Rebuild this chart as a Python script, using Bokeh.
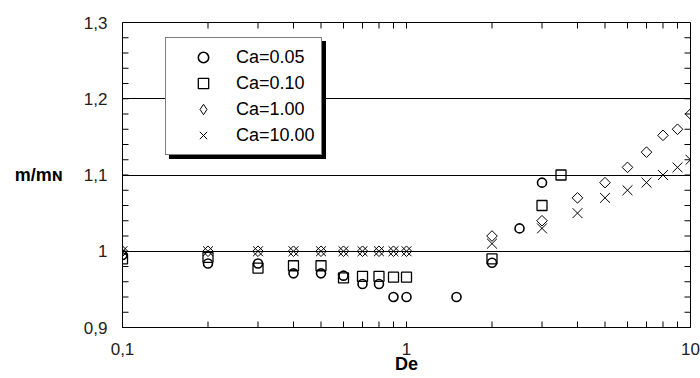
import math
import numpy as np
from bokeh.plotting import figure
from bokeh.models import (FixedTicker, Legend, LegendItem, Range1d, CustomJSTickFormatter)
from bokeh.embed import file_html
from bokeh.resources import INLINE

# ---- data ----
de_005 = [0.1, 0.2, 0.3, 0.4, 0.5, 0.6, 0.7, 0.8, 0.9, 1.0, 1.5, 2.0, 2.5, 3.0]
m_005 = [0.995, 0.984, 0.984, 0.971, 0.971, 0.968, 0.957, 0.957, 0.94, 0.94, 0.94, 0.985, 1.03, 1.09]

de_010 = [0.1, 0.2, 0.3, 0.4, 0.5, 0.6, 0.7, 0.8, 0.9, 1.0, 2.0, 3.0, 3.5]
m_010 = [0.99, 0.992, 0.978, 0.981, 0.981, 0.965, 0.967, 0.967, 0.966, 0.966, 0.99, 1.06, 1.10]

de_100 = [0.1, 0.2, 0.3, 0.4, 0.5, 0.6, 0.7, 0.8, 0.9, 1.0, 2, 3, 4, 5, 6, 7, 8, 9, 10]
m_100 = [1.0, 1.0, 1.0, 1.0, 1.0, 1.0, 1.0, 1.0, 1.0, 1.0,
         1.02, 1.04, 1.07, 1.09, 1.11, 1.13, 1.152, 1.16, 1.18]

de_1000 = [0.1, 0.2, 0.3, 0.4, 0.5, 0.6, 0.7, 0.8, 0.9, 1.0, 2, 3, 4, 5, 6, 7, 8, 9, 10]
m_1000 = [1.0, 1.0, 1.0, 1.0, 1.0, 1.0, 1.0, 1.0, 1.0, 1.0,
          1.01, 1.03, 1.05, 1.07, 1.08, 1.09, 1.10, 1.11, 1.12]

series_labels = ["Ca=0.05", "Ca=0.10", "Ca=1.00", "Ca=10.00"]

x_ticks = [0.1, 1.0, 10.0]
x_tick_labels = ["0,1", "1", "10"]
x_minor = [0.2, 0.3, 0.4, 0.5, 0.6, 0.7, 0.8, 0.9, 2.0, 3.0, 4.0, 5.0, 6.0, 7.0, 8.0, 9.0]
y_ticks = [0.9, 1.0, 1.1, 1.2, 1.3]
y_tick_labels = ["0,9", "1", "1,1", "1,2", "1,3"]
y_minor = [0.92, 0.94, 0.96, 0.98, 1.02, 1.04, 1.06, 1.08, 1.12, 1.14, 1.16, 1.18,
           1.22, 1.24, 1.26, 1.28]
y_grid = [1.0, 1.1, 1.2]
x_min, x_max = 0.1, 10.0
y_min, y_max = 0.9, 1.3

FONT = "Liberation Sans"

# layout (pixels)
W, H = 700, 378
BL, BR, BT, BB = 122, 10, 22, 51
FRAME_W, FRAME_H = W - BL - BR, H - BT - BB
TICK_PX = 6

LOOKUP = """
for (let i = 0; i < tvals.length; i++) {
  if (Math.abs(tvals[i] - tick) < 1e-9 * Math.max(1, Math.abs(tick))) { return tlabs[i]; }
}
return "";
"""

p = figure(width=W, height=H, x_axis_type="log",
           x_range=Range1d(x_min, x_max), y_range=Range1d(y_min, y_max),
           output_backend="svg", toolbar_location=None,
           min_border_left=BL, min_border_right=BR,
           min_border_top=BT, min_border_bottom=BB,
           background_fill_color="white", border_fill_color="white")
p.outline_line_color = "black"
p.outline_line_width = 1

# grid
p.xgrid.visible = False
p.ygrid.ticker = FixedTicker(ticks=y_grid)
p.ygrid.grid_line_color = "black"
p.ygrid.grid_line_width = 1

for ax in (p.xaxis[0], p.yaxis[0]):
    ax.axis_line_color = "black"
    ax.major_tick_in = 0
    ax.major_tick_out = 0
    ax.minor_tick_in = 0
    ax.minor_tick_out = 0
    ax.major_label_text_font = FONT
    ax.major_label_text_font_size = "17px"
    ax.major_label_text_color = "#222222"
    ax.axis_label_text_font = FONT
    ax.axis_label_text_font_style = "bold"
    ax.axis_label_text_font_size = "18px"
    ax.axis_label_text_color = "black"

xa = p.xaxis[0]
xa.ticker = FixedTicker(ticks=x_ticks, minor_ticks=x_minor)
xa.formatter = CustomJSTickFormatter(args=dict(tvals=x_ticks, tlabs=x_tick_labels), code=LOOKUP)
xa.major_label_standoff = 15
xa.axis_label = "De"
xa.axis_label_standoff = -4

ya = p.yaxis[0]
ya.ticker = FixedTicker(ticks=y_ticks, minor_ticks=y_minor)
ya.formatter = CustomJSTickFormatter(args=dict(tvals=y_ticks, tlabs=y_tick_labels), code=LOOKUP)
ya.major_label_standoff = 15
ya.axis_label = "m/m\u0274"
ya.axis_label_orientation = "horizontal"
ya.axis_label_standoff = 18

# data
r1 = p.scatter(de_005, m_005, marker="circle", size=9, fill_alpha=0,
               line_color="black", line_width=1.6)
r2 = p.scatter(de_010, m_010, marker="square", size=10, fill_alpha=0,
               line_color="black", line_width=1.3)
r3 = p.scatter(de_100, m_100, marker="square", angle=math.pi / 4, size=7.5, fill_alpha=0,
               line_color="black", line_width=1)
r4 = p.scatter(de_1000, m_1000, marker="x", size=14, fill_alpha=0,
               line_color="black", line_width=1)
# legend key for the diamond series (legend glyphs ignore rotation); not plotted
r3_key = p.scatter(x=np.array([np.nan]), y=np.array([np.nan]), marker="diamond", size=12,
                   fill_alpha=0, line_color="black", line_width=1)
renderers = [r1, r2, r3_key, r4]

# inward tick marks on all four sides: thin filled rects, 6 px long, inside the frame
xt = np.array(x_ticks + x_minor, dtype=float)
yt = np.array(y_ticks + y_minor, dtype=float)
dy = TICK_PX * (y_max - y_min) / FRAME_H
fx = 10 ** (TICK_PX * math.log10(x_max / x_min) / FRAME_W)
rect_v = dict(width=1, height=TICK_PX, width_units="screen", height_units="screen",
              fill_color="black", line_color=None)
rect_h = dict(width=TICK_PX, height=1, width_units="screen", height_units="screen",
              fill_color="black", line_color=None)
p.rect(x=xt, y=np.full(len(xt), y_min + dy / 2), **rect_v)
p.rect(x=xt, y=np.full(len(xt), y_max - dy / 2), **rect_v)
p.rect(x=np.full(len(yt), x_min * math.sqrt(fx)), y=yt, **rect_h)
p.rect(x=np.full(len(yt), x_max / math.sqrt(fx)), y=yt, **rect_h)

def make_legend(loc, shadow):
    items = [LegendItem(label=l, renderers=[r]) for l, r in zip(series_labels, renderers)]
    return Legend(items=items, location=loc, orientation="vertical",
                  label_text_font=FONT, label_text_font_size="18px",
                  label_text_color="black",
                  glyph_width=62, glyph_height=26, label_height=26,
                  label_standoff=2, spacing=-4, padding=6, margin=0,
                  border_line_color="black", border_line_width=1,
                  background_fill_color="black" if shadow else "white",
                  background_fill_alpha=1)

p.add_layout(make_legend((47, 168), True), "center")
p.add_layout(make_legend((43, 172), False), "center")

open("out.html", "w").write(file_html(p, INLINE))
